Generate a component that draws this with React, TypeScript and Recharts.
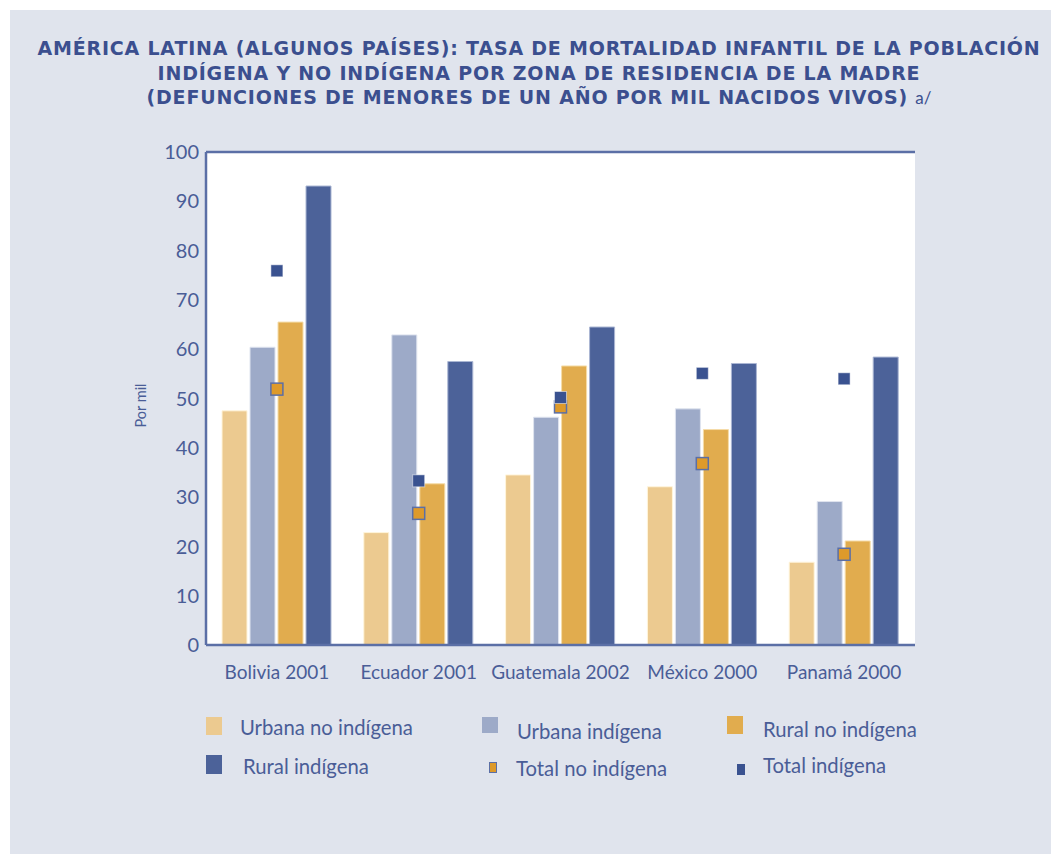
import React from 'react';
import {
  ComposedChart,
  Bar,
  Scatter,
  XAxis,
  YAxis,
  CartesianGrid,
  ReferenceLine,
} from 'recharts';

const categories = ['Bolivia 2001', 'Ecuador 2001', 'Guatemala 2002', 'México 2000', 'Panamá 2000'];
const urbanaNoIndigena = [47.5, 22.8, 34.5, 32.1, 16.8];
const urbanaIndigena = [60.4, 62.9, 46.2, 47.9, 29.1];
const ruralNoIndigena = [65.5, 32.7, 56.6, 43.7, 21.1];
const ruralIndigena = [93.1, 57.5, 64.5, 57.1, 58.4];
const totalNoIndigena = [51.9, 26.7, 48.3, 36.8, 18.4];
const totalIndigena = [75.9, 33.3, 50.2, 55.1, 54.0];
const yTicks = [0, 10, 20, 30, 40, 50, 60, 70, 80, 90, 100];

const seriesNames = [
  'Urbana no indígena',
  'Urbana indígena',
  'Rural no indígena',
  'Rural indígena',
  'Total no indígena',
  'Total indígena',
];

const C_UNI = '#ecca90';
const C_UI = '#9daac8';
const C_RNI = '#e1ac4e';
const C_RI = '#4c6299';
const C_TNI = '#de9a2a';
const C_TI = '#3a5290';
const TEXT = '#4a5d97';
const BORDER = '#5b6fa6';

const chartData = categories.map((name, i) => ({
  name,
  uni: urbanaNoIndigena[i],
  ui: urbanaIndigena[i],
  rni: ruralNoIndigena[i],
  ri: ruralIndigena[i],
  tni: totalNoIndigena[i],
  ti: totalIndigena[i],
}));

const FONT = 'Lato, "Open Sans", sans-serif';

const TotalNoShape = (props: any) => {
  const { cx, cy } = props;
  if (cx == null || cy == null) return null;
  return <rect x={cx - 6} y={cy - 6} width={12} height={12} fill={C_TNI} stroke={BORDER} strokeWidth={1.5} />;
};

const TotalIndShape = (props: any) => {
  const { cx, cy } = props;
  if (cx == null || cy == null) return null;
  return <rect x={cx - 6} y={cy - 6} width={12} height={12} fill={C_TI} stroke="#ffffff" strokeOpacity={0.5} strokeWidth={1} />;
};

const legendItems = [
  { label: seriesNames[0], left: 206, top: 717, sq: { w: 16, h: 18, fill: C_UNI }, tx: 240, ty: 715 },
  { label: seriesNames[1], left: 482, top: 717, sq: { w: 16, h: 16, fill: C_UI }, tx: 517, ty: 719 },
  { label: seriesNames[2], left: 727, top: 716, sq: { w: 16, h: 18, fill: C_RNI }, tx: 763, ty: 717 },
  { label: seriesNames[3], left: 206, top: 755, sq: { w: 16, h: 19, fill: C_RI }, tx: 243, ty: 754 },
  { label: seriesNames[4], left: 489, top: 762, sq: { w: 8, h: 11, fill: C_TNI, border: BORDER }, tx: 516, ty: 756 },
  { label: seriesNames[5], left: 737, top: 764, sq: { w: 8, h: 11, fill: C_TI }, tx: 763, ty: 753 },
];

export default function App() {
  return (
    <div style={{ position: 'absolute', left: 0, top: 0, width: 1051, height: 854, background: '#ffffff', fontFamily: FONT }}>
      <div style={{ position: 'absolute', left: 10, top: 10, width: 1041, height: 844, background: '#e0e4ed' }} />
      <div
        style={{
          position: 'absolute',
          left: 0,
          top: 36,
          width: 1078,
          textAlign: 'center',
          color: '#3b4f8f',
          fontFamily: '"DejaVu Sans", sans-serif',
          fontWeight: 700,
          fontSize: 19,
          lineHeight: '24.5px',
          letterSpacing: '0.8px',
        }}
      >
        AMÉRICA LATINA (ALGUNOS PAÍSES): TASA DE MORTALIDAD INFANTIL DE LA POBLACIÓN
        <br />
        INDÍGENA Y NO INDÍGENA POR ZONA DE RESIDENCIA DE LA MADRE
        <br />
        (DEFUNCIONES DE MENORES DE UN AÑO POR MIL NACIDOS VIVOS) <span style={{ fontWeight: 400, fontSize: 17, fontFamily: FONT, letterSpacing: 0 }}>a/</span>
      </div>

      <div style={{ position: 'absolute', left: 0, top: 0 }}>
        <ComposedChart
          width={1051}
          height={854}
          data={chartData}
          margin={{ top: 152, right: 136, left: 0, bottom: 179 }}
          barSize={25}
          barGap={3}
        >
          <CartesianGrid fill="#ffffff" vertical={false} stroke={BORDER} strokeDasharray="2 4" strokeWidth={1.2} />
          <XAxis
            xAxisId="edges"
            type="number"
            domain={[0, 5]}
            ticks={[0, 1, 2, 3, 4]}
            height={0}
            mirror
            tickSize={11}
            tickFormatter={() => ''}
            axisLine={false}
            tickLine={{ stroke: BORDER, strokeWidth: 2 }}
          />
          <XAxis
            xAxisId="cat"
            dataKey="name"
            height={30}
            tickLine={false}
            tickMargin={15}
            axisLine={{ stroke: BORDER, strokeWidth: 2.5 }}
            tick={{ fill: TEXT, fontSize: 19, fontFamily: FONT }}
            interval={0}
          />
          <YAxis
            yAxisId="left"
            width={206}
            domain={[0, 100]}
            ticks={yTicks}
            tickLine={false}
            tickMargin={1}
            axisLine={{ stroke: BORDER, strokeWidth: 2.5 }}
            tick={{ fill: TEXT, fontSize: 20, fontFamily: FONT }}
            label={{
              value: 'Por mil',
              angle: -90,
              position: 'insideLeft',
              offset: 141,
              dy: 7,
              style: { fill: TEXT, fontSize: 14.5, fontFamily: FONT, textAnchor: 'middle' },
            }}
          />
          <YAxis
            yAxisId="right"
            orientation="right"
            width={0}
            domain={[0, 100]}
            tick={false}
            tickLine={false}
            axisLine={{ stroke: BORDER, strokeWidth: 2.5 }}
          />
          <ReferenceLine yAxisId="left" xAxisId="cat" y={100} stroke={BORDER} strokeWidth={2.5} />
          <Bar xAxisId="cat" yAxisId="left" dataKey="uni" name={seriesNames[0]} fill={C_UNI} stroke="#fff5dc" strokeWidth={1} isAnimationActive={false} />
          <Bar xAxisId="cat" yAxisId="left" dataKey="ui" name={seriesNames[1]} fill={C_UI} stroke="#dfe4ef" strokeWidth={1} isAnimationActive={false} />
          <Bar xAxisId="cat" yAxisId="left" dataKey="rni" name={seriesNames[2]} fill={C_RNI} stroke="#f5dca8" strokeWidth={1} isAnimationActive={false} />
          <Bar xAxisId="cat" yAxisId="left" dataKey="ri" name={seriesNames[3]} fill={C_RI} stroke="#aab6d3" strokeWidth={1} isAnimationActive={false} />
          <Scatter xAxisId="cat" yAxisId="left" dataKey="tni" name={seriesNames[4]} shape={<TotalNoShape />} isAnimationActive={false} />
          <Scatter xAxisId="cat" yAxisId="left" dataKey="ti" name={seriesNames[5]} shape={<TotalIndShape />} isAnimationActive={false} />
        </ComposedChart>
      </div>

      {legendItems.map((it) => (
        <React.Fragment key={it.label}>
          <div
            style={{
              position: 'absolute',
              left: it.left,
              top: it.top,
              width: it.sq.w,
              height: it.sq.h,
              background: it.sq.fill,
              boxSizing: 'border-box',
              border: it.sq.border ? `1.5px solid ${it.sq.border}` : undefined,
            }}
          />
          <div style={{ position: 'absolute', left: it.tx, top: it.ty, color: TEXT, fontSize: 20.3, lineHeight: '24px', whiteSpace: 'nowrap' }}>
            {it.label}
          </div>
        </React.Fragment>
      ))}
    </div>
  );
}
